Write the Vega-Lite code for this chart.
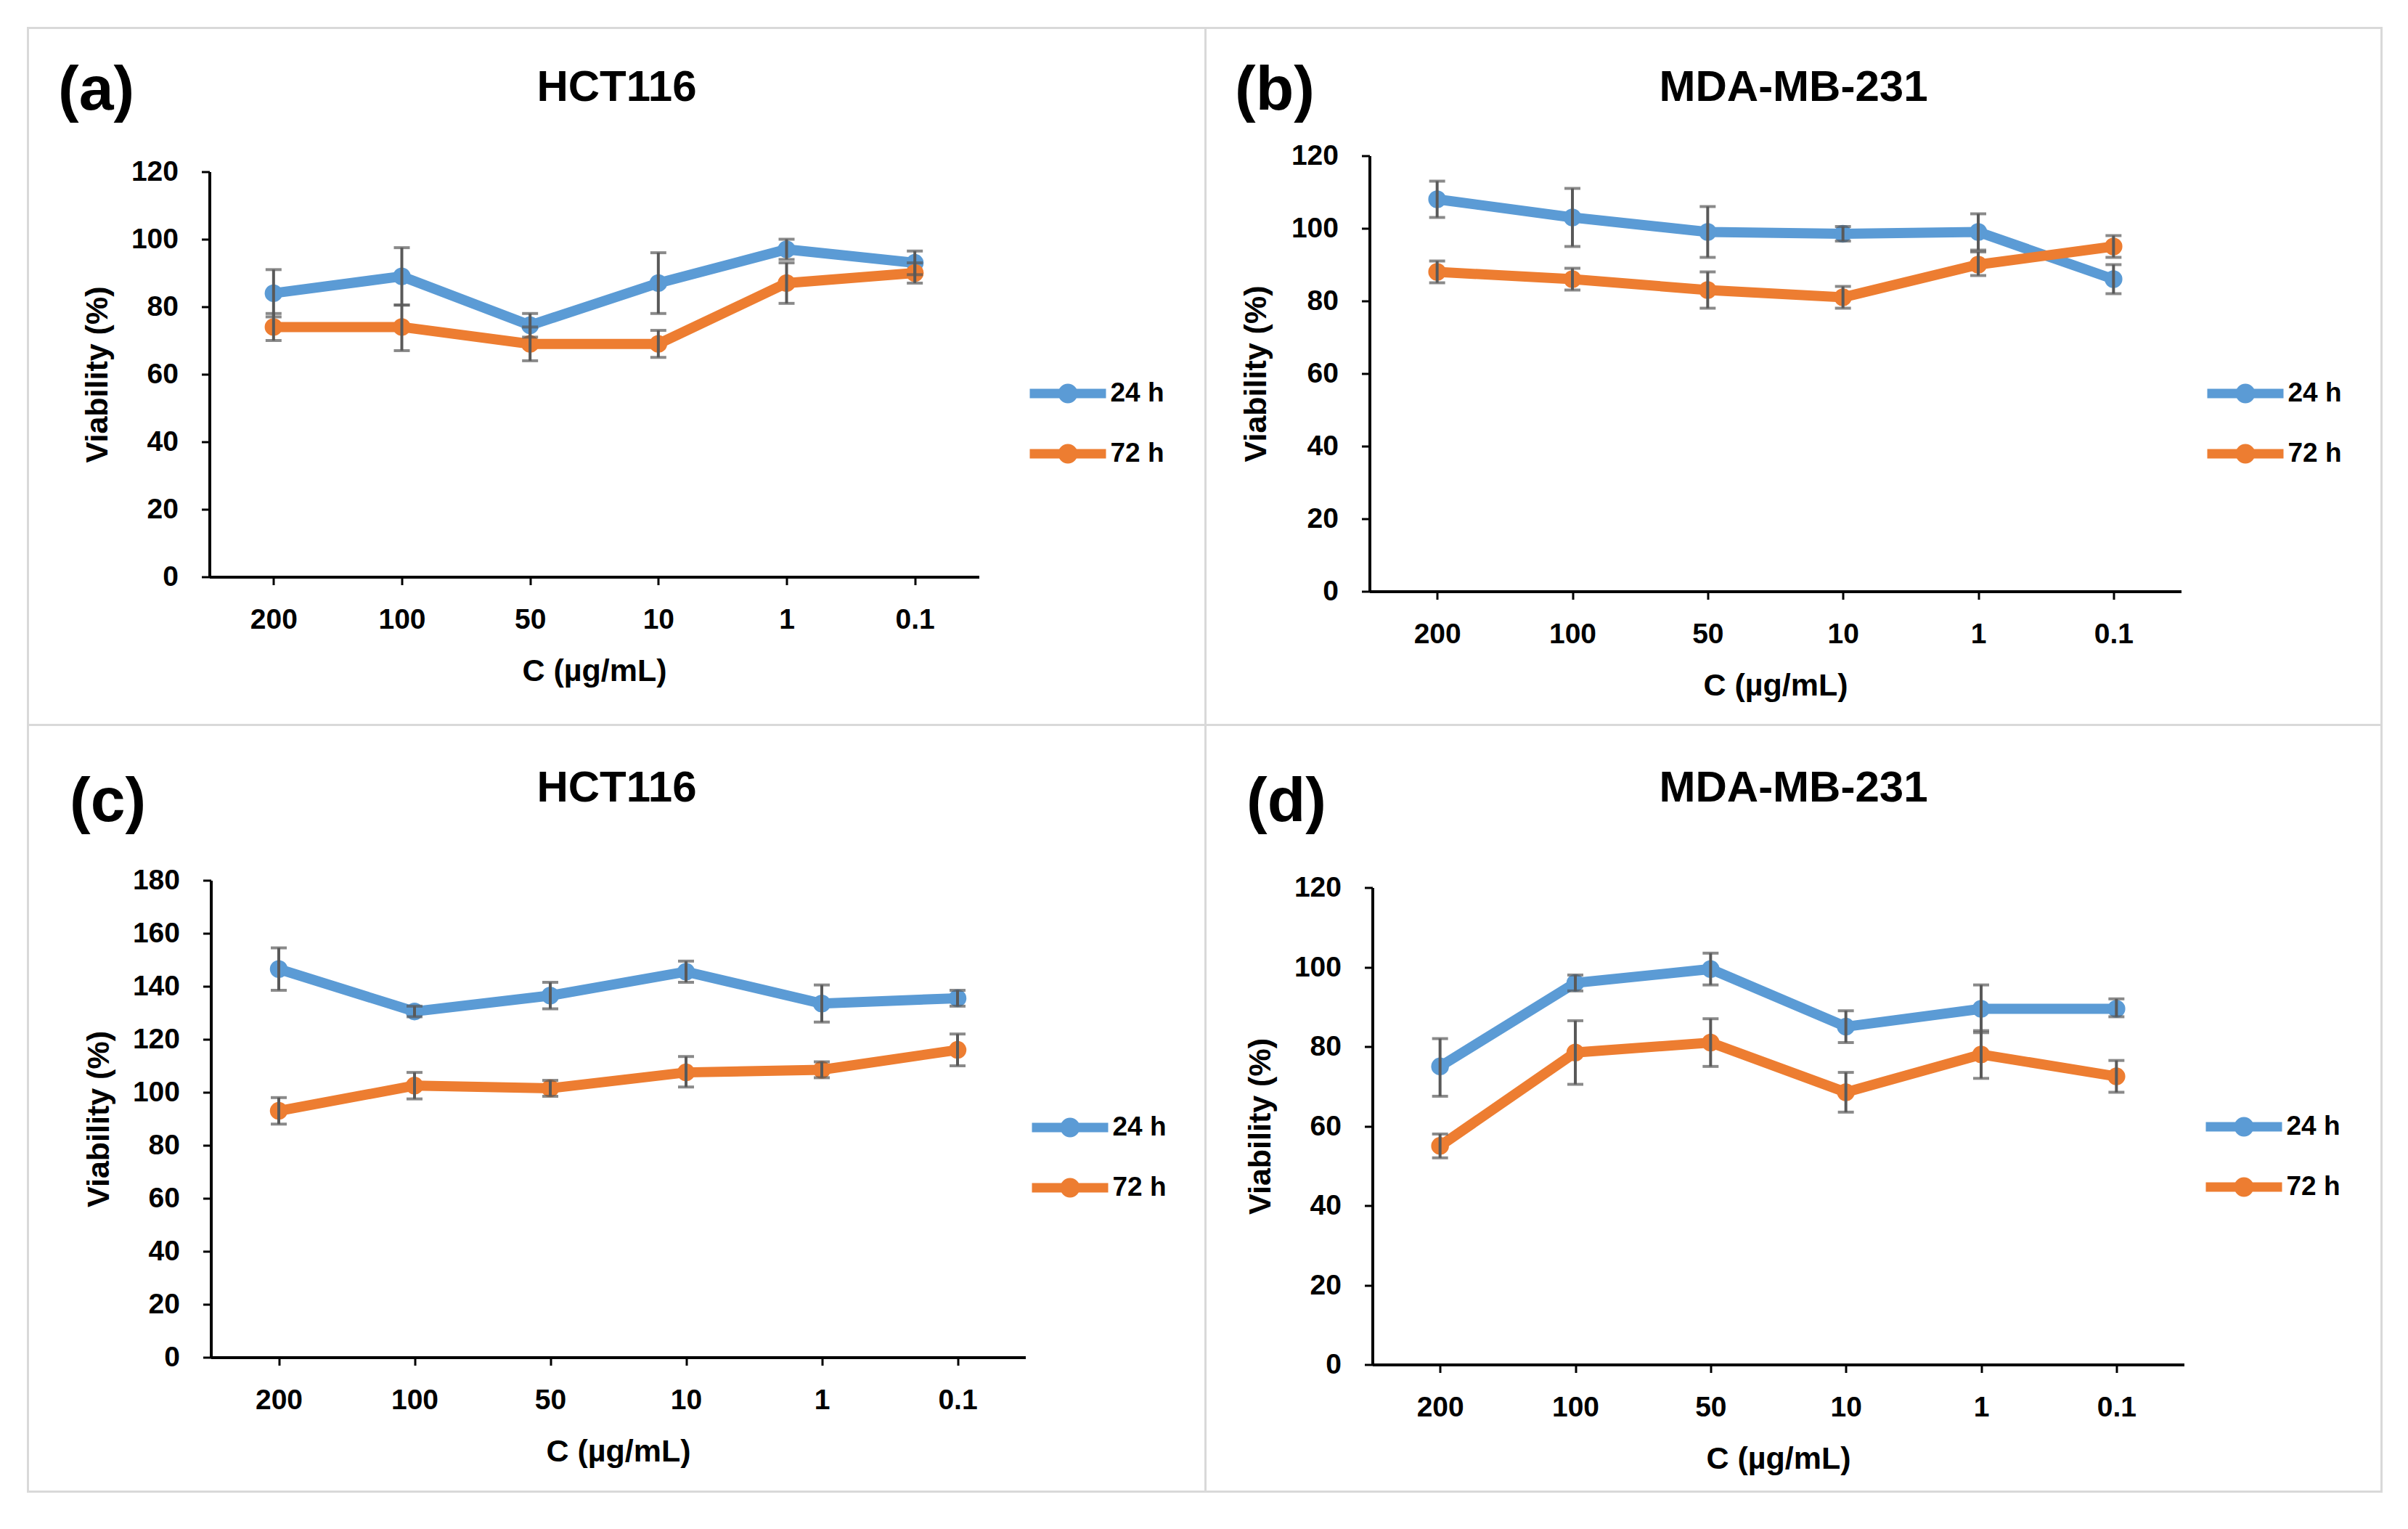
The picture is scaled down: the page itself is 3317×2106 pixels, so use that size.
{
"$schema": "https://vega.github.io/schema/vega-lite/v6.json",
"background": "white",
"padding": {"left": 36.5, "top": 36.5, "right": 20, "bottom": 20},
"config": {
  "font": "Liberation Sans",
  "view": {"stroke": "#d9d9d9", "strokeWidth": 3},
  "axis": {"domainColor": "black", "domainWidth": 4, "tickColor": "black", "tickWidth": 3, "tickSize": 11, "labelFont": "Liberation Sans", "labelFontSize": 39, "labelFontWeight": "bold", "labelColor": "black", "titleFont": "Liberation Sans", "titleFontSize": 43, "titleFontWeight": "bold", "titleColor": "black", "grid": false},
  "axisX": {"labelBaseline": "alphabetic", "labelPadding": 60, "labelAngle": 0, "titleBaseline": "alphabetic", "titleY": 143},
  "axisY": {"labelPadding": 32, "titleX": -141, "titleBaseline": "alphabetic"},
  "title": {"font": "Liberation Sans", "fontSize": 60, "fontWeight": "bold", "color": "black", "anchor": "middle", "frame": "group", "baseline": "alphabetic"},
  "legend": {"orient": "none", "title": null, "symbolType": "M-1.25,0L1.25,0M0.167,0A0.167,0.167,0,1,1,-0.167,0A0.167,0.167,0,1,1,0.167,0Z", "symbolSize": 7056, "symbolStrokeWidth": 13, "labelFont": "Liberation Sans", "labelFontSize": 37, "labelFontWeight": "bold", "labelColor": "black", "labelOffset": 10, "rowPadding": 1, "padding": 0}
},
"datasets": {
  "v": [
    {"panel": "a", "series": "24 h", "conc": "200", "val": 84, "lo": 77, "hi": 91},
    {"panel": "a", "series": "24 h", "conc": "100", "val": 89, "lo": 80.5, "hi": 97.5},
    {"panel": "a", "series": "24 h", "conc": "50", "val": 74.5, "lo": 71, "hi": 78},
    {"panel": "a", "series": "24 h", "conc": "10", "val": 87, "lo": 78, "hi": 96},
    {"panel": "a", "series": "24 h", "conc": "1", "val": 97, "lo": 94, "hi": 100},
    {"panel": "a", "series": "24 h", "conc": "0.1", "val": 93, "lo": 89.5, "hi": 96.5},
    {"panel": "a", "series": "72 h", "conc": "200", "val": 74, "lo": 70, "hi": 78},
    {"panel": "a", "series": "72 h", "conc": "100", "val": 74, "lo": 67, "hi": 80.5},
    {"panel": "a", "series": "72 h", "conc": "50", "val": 69, "lo": 64, "hi": 74},
    {"panel": "a", "series": "72 h", "conc": "10", "val": 69, "lo": 65, "hi": 73},
    {"panel": "a", "series": "72 h", "conc": "1", "val": 87, "lo": 81, "hi": 93},
    {"panel": "a", "series": "72 h", "conc": "0.1", "val": 90, "lo": 87, "hi": 93},
    {"panel": "b", "series": "24 h", "conc": "200", "val": 108, "lo": 103, "hi": 113},
    {"panel": "b", "series": "24 h", "conc": "100", "val": 103, "lo": 95, "hi": 111},
    {"panel": "b", "series": "24 h", "conc": "50", "val": 99, "lo": 92, "hi": 106},
    {"panel": "b", "series": "24 h", "conc": "10", "val": 98.5, "lo": 96.5, "hi": 100.5},
    {"panel": "b", "series": "24 h", "conc": "1", "val": 99, "lo": 94, "hi": 104},
    {"panel": "b", "series": "24 h", "conc": "0.1", "val": 86, "lo": 82, "hi": 90},
    {"panel": "b", "series": "72 h", "conc": "200", "val": 88, "lo": 85, "hi": 91},
    {"panel": "b", "series": "72 h", "conc": "100", "val": 86, "lo": 83, "hi": 89},
    {"panel": "b", "series": "72 h", "conc": "50", "val": 83, "lo": 78, "hi": 88},
    {"panel": "b", "series": "72 h", "conc": "10", "val": 81, "lo": 78, "hi": 84},
    {"panel": "b", "series": "72 h", "conc": "1", "val": 90, "lo": 87, "hi": 93.5},
    {"panel": "b", "series": "72 h", "conc": "0.1", "val": 95, "lo": 92, "hi": 98},
    {"panel": "c", "series": "24 h", "conc": "200", "val": 146.5, "lo": 138.5, "hi": 154.5},
    {"panel": "c", "series": "24 h", "conc": "100", "val": 130.5, "lo": 128.5, "hi": 132.5},
    {"panel": "c", "series": "24 h", "conc": "50", "val": 136.5, "lo": 131.5, "hi": 141.5},
    {"panel": "c", "series": "24 h", "conc": "10", "val": 145.5, "lo": 141.5, "hi": 149.5},
    {"panel": "c", "series": "24 h", "conc": "1", "val": 133.5, "lo": 126.5, "hi": 140.5},
    {"panel": "c", "series": "24 h", "conc": "0.1", "val": 135.5, "lo": 132.5, "hi": 138.5},
    {"panel": "c", "series": "72 h", "conc": "200", "val": 93, "lo": 88, "hi": 98},
    {"panel": "c", "series": "72 h", "conc": "100", "val": 102.5, "lo": 97.5, "hi": 107.5},
    {"panel": "c", "series": "72 h", "conc": "50", "val": 101.5, "lo": 98.5, "hi": 104.5},
    {"panel": "c", "series": "72 h", "conc": "10", "val": 107.5, "lo": 102, "hi": 113.5},
    {"panel": "c", "series": "72 h", "conc": "1", "val": 108.5, "lo": 105.5, "hi": 111.5},
    {"panel": "c", "series": "72 h", "conc": "0.1", "val": 116, "lo": 110, "hi": 122},
    {"panel": "d", "series": "24 h", "conc": "200", "val": 75, "lo": 67.5, "hi": 82},
    {"panel": "d", "series": "24 h", "conc": "100", "val": 96, "lo": 94, "hi": 98},
    {"panel": "d", "series": "24 h", "conc": "50", "val": 99.5, "lo": 95.5, "hi": 103.5},
    {"panel": "d", "series": "24 h", "conc": "10", "val": 85, "lo": 81, "hi": 89},
    {"panel": "d", "series": "24 h", "conc": "1", "val": 89.5, "lo": 83.5, "hi": 95.5},
    {"panel": "d", "series": "24 h", "conc": "0.1", "val": 89.5, "lo": 87.5, "hi": 92},
    {"panel": "d", "series": "72 h", "conc": "200", "val": 55, "lo": 52, "hi": 58},
    {"panel": "d", "series": "72 h", "conc": "100", "val": 78.5, "lo": 70.5, "hi": 86.5},
    {"panel": "d", "series": "72 h", "conc": "50", "val": 81, "lo": 75, "hi": 87},
    {"panel": "d", "series": "72 h", "conc": "10", "val": 68.5, "lo": 63.5, "hi": 73.5},
    {"panel": "d", "series": "72 h", "conc": "1", "val": 78, "lo": 72, "hi": 84},
    {"panel": "d", "series": "72 h", "conc": "0.1", "val": 72.5, "lo": 68.5, "hi": 76.5}
  ]
},
"columns": 2,
"spacing": 0,
"bounds": "flush",
"align": "each",
"resolve": {"scale": {"color": "independent"}, "legend": {"color": "independent"}},
"concat": [
  {"width": 1622, "height": 960, "data": {"name": "v"}, "transform": [{"filter": "datum.panel === 'a'"}],
   "title": {"text": "HCT116", "offset": -113},
   "resolve": {"axis": {"x": "independent"}},
   "layer": [
    {"mark": {"type": "line", "strokeWidth": 14},
     "encoding": {
      "x": {"field": "conc", "type": "ordinal", "sort": ["200","100","50","10","1","0.1"], "scale": {"type": "point", "padding": 0.5, "range": [250, 1310]}, "axis": {"orient": "bottom", "offset": -204, "title": "C (µg/mL)"}},
      "y": {"field": "val", "type": "quantitative", "scale": {"domain": [0, 120], "range": [756, 198], "nice": false}, "axis": {"values": [0,20,40,60,80,100,120], "offset": -250, "title": "Viability (%)"}},
      "color": {"field": "series", "type": "nominal", "scale": {"domain": ["24 h","72 h"], "range": ["#5B9BD5","#ED7D31"]}, "legend": {"legendX": 1384, "legendY": 455}}
     }},
    {"mark": {"type": "circle", "size": 600, "opacity": 1},
     "encoding": {
      "x": {"field": "conc", "type": "ordinal", "sort": ["200","100","50","10","1","0.1"], "axis": null},
      "y": {"field": "val", "type": "quantitative", "axis": {"values": [0,20,40,60,80,100,120], "offset": -250, "title": "Viability (%)"}},
      "color": {"field": "series", "type": "nominal"}
     }},
    {"mark": {"type": "errorbar", "ticks": {"size": 22, "thickness": 4}, "thickness": 4, "color": "#595959"},
     "encoding": {
      "x": {"field": "conc", "type": "ordinal", "sort": ["200","100","50","10","1","0.1"], "axis": {"orient": "top", "offset": 0, "domain": false, "ticks": false, "labels": false, "title": "(a)", "titleX": 41, "titleY": 112, "titleAlign": "left", "titleBaseline": "alphabetic", "titleFontSize": 86, "titleAngle": 0}},
      "y": {"field": "lo", "type": "quantitative", "axis": {"values": [0,20,40,60,80,100,120], "offset": -250, "title": "Viability (%)"}},
      "y2": {"field": "hi"}
     }}
   ]},
  {"width": 1620, "height": 960, "data": {"name": "v"}, "transform": [{"filter": "datum.panel === 'b'"}],
   "title": {"text": "MDA-MB-231", "offset": -113},
   "resolve": {"axis": {"x": "independent"}},
   "layer": [
    {"mark": {"type": "line", "strokeWidth": 14},
     "encoding": {
      "x": {"field": "conc", "type": "ordinal", "sort": ["200","100","50","10","1","0.1"], "scale": {"type": "point", "padding": 0.5, "range": [226, 1344]}, "axis": {"orient": "bottom", "offset": -184, "title": "C (µg/mL)"}},
      "y": {"field": "val", "type": "quantitative", "scale": {"domain": [0, 120], "range": [776, 176], "nice": false}, "axis": {"values": [0,20,40,60,80,100,120], "offset": -226, "title": "Viability (%)", "titleX": -143}},
      "color": {"field": "series", "type": "nominal", "scale": {"domain": ["24 h","72 h"], "range": ["#5B9BD5","#ED7D31"]}, "legend": {"legendX": 1384, "legendY": 455}}
     }},
    {"mark": {"type": "circle", "size": 600, "opacity": 1},
     "encoding": {
      "x": {"field": "conc", "type": "ordinal", "sort": ["200","100","50","10","1","0.1"], "axis": null},
      "y": {"field": "val", "type": "quantitative", "axis": {"values": [0,20,40,60,80,100,120], "offset": -226, "title": "Viability (%)", "titleX": -143}},
      "color": {"field": "series", "type": "nominal"}
     }},
    {"mark": {"type": "errorbar", "ticks": {"size": 22, "thickness": 4}, "thickness": 4, "color": "#595959"},
     "encoding": {
      "x": {"field": "conc", "type": "ordinal", "sort": ["200","100","50","10","1","0.1"], "axis": {"orient": "top", "offset": 0, "domain": false, "ticks": false, "labels": false, "title": "(b)", "titleX": 40, "titleY": 112, "titleAlign": "left", "titleBaseline": "alphabetic", "titleFontSize": 86, "titleAngle": 0}},
      "y": {"field": "lo", "type": "quantitative", "axis": {"values": [0,20,40,60,80,100,120], "offset": -226, "title": "Viability (%)", "titleX": -143}},
      "y2": {"field": "hi"}
     }}
   ]},
  {"width": 1622, "height": 1056, "data": {"name": "v"}, "transform": [{"filter": "datum.panel === 'c'"}],
   "title": {"text": "HCT116", "offset": -118},
   "resolve": {"axis": {"x": "independent"}},
   "layer": [
    {"mark": {"type": "line", "strokeWidth": 14},
     "encoding": {
      "x": {"field": "conc", "type": "ordinal", "sort": ["200","100","50","10","1","0.1"], "scale": {"type": "point", "padding": 0.5, "range": [252, 1374]}, "axis": {"orient": "bottom", "offset": -185, "title": "C (µg/mL)"}},
      "y": {"field": "val", "type": "quantitative", "scale": {"domain": [0, 180], "range": [871, 214], "nice": false}, "axis": {"values": [0,20,40,60,80,100,120,140,160,180], "offset": -252, "title": "Viability (%)"}},
      "color": {"field": "series", "type": "nominal", "scale": {"domain": ["24 h","72 h"], "range": ["#5B9BD5","#ED7D31"]}, "legend": {"legendX": 1387, "legendY": 506}}
     }},
    {"mark": {"type": "circle", "size": 600, "opacity": 1},
     "encoding": {
      "x": {"field": "conc", "type": "ordinal", "sort": ["200","100","50","10","1","0.1"], "axis": null},
      "y": {"field": "val", "type": "quantitative", "axis": {"values": [0,20,40,60,80,100,120,140,160,180], "offset": -252, "title": "Viability (%)"}},
      "color": {"field": "series", "type": "nominal"}
     }},
    {"mark": {"type": "errorbar", "ticks": {"size": 22, "thickness": 4}, "thickness": 4, "color": "#595959"},
     "encoding": {
      "x": {"field": "conc", "type": "ordinal", "sort": ["200","100","50","10","1","0.1"], "axis": {"orient": "top", "offset": 0, "domain": false, "ticks": false, "labels": false, "title": "(c)", "titleX": 57, "titleY": 132, "titleAlign": "left", "titleBaseline": "alphabetic", "titleFontSize": 86, "titleAngle": 0}},
      "y": {"field": "lo", "type": "quantitative", "axis": {"values": [0,20,40,60,80,100,120,140,160,180], "offset": -252, "title": "Viability (%)"}},
      "y2": {"field": "hi"}
     }}
   ]},
  {"width": 1620, "height": 1056, "data": {"name": "v"}, "transform": [{"filter": "datum.panel === 'd'"}],
   "title": {"text": "MDA-MB-231", "offset": -118},
   "resolve": {"axis": {"x": "independent"}},
   "layer": [
    {"mark": {"type": "line", "strokeWidth": 14},
     "encoding": {
      "x": {"field": "conc", "type": "ordinal", "sort": ["200","100","50","10","1","0.1"], "scale": {"type": "point", "padding": 0.5, "range": [230, 1348]}, "axis": {"orient": "bottom", "offset": -175, "title": "C (µg/mL)"}},
      "y": {"field": "val", "type": "quantitative", "scale": {"domain": [0, 120], "range": [881, 224], "nice": false}, "axis": {"values": [0,20,40,60,80,100,120], "offset": -230, "title": "Viability (%)"}},
      "color": {"field": "series", "type": "nominal", "scale": {"domain": ["24 h","72 h"], "range": ["#5B9BD5","#ED7D31"]}, "legend": {"legendX": 1382, "legendY": 505}}
     }},
    {"mark": {"type": "circle", "size": 600, "opacity": 1},
     "encoding": {
      "x": {"field": "conc", "type": "ordinal", "sort": ["200","100","50","10","1","0.1"], "axis": null},
      "y": {"field": "val", "type": "quantitative", "axis": {"values": [0,20,40,60,80,100,120], "offset": -230, "title": "Viability (%)"}},
      "color": {"field": "series", "type": "nominal"}
     }},
    {"mark": {"type": "errorbar", "ticks": {"size": 22, "thickness": 4}, "thickness": 4, "color": "#595959"},
     "encoding": {
      "x": {"field": "conc", "type": "ordinal", "sort": ["200","100","50","10","1","0.1"], "axis": {"orient": "top", "offset": 0, "domain": false, "ticks": false, "labels": false, "title": "(d)", "titleX": 56, "titleY": 132, "titleAlign": "left", "titleBaseline": "alphabetic", "titleFontSize": 86, "titleAngle": 0}},
      "y": {"field": "lo", "type": "quantitative", "axis": {"values": [0,20,40,60,80,100,120], "offset": -230, "title": "Viability (%)"}},
      "y2": {"field": "hi"}
     }}
   ]}
]
}
